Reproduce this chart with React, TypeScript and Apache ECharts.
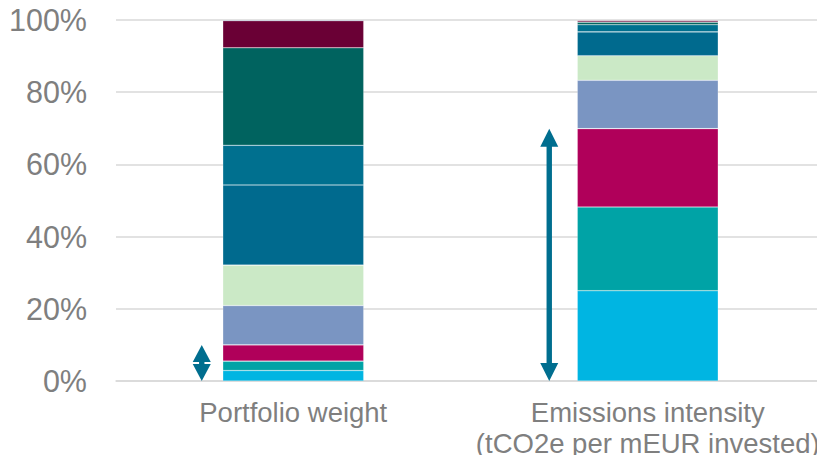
import React, { useEffect, useRef } from "react";
import * as echarts from "echarts";

const categories = ["Portfolio weight", "Emissions intensity\n(tCO2e per mEUR invested)"];
const yTicks = [0, 20, 40, 60, 80, 100];

const seriesNames = [
  "Segment 1",
  "Segment 2",
  "Segment 3",
  "Segment 4",
  "Segment 5",
  "Segment 6",
  "Segment 7",
  "Segment 8",
  "Segment 9",
  "Segment 10",
];
const seg1 = [2.9, 25.0];
const seg2 = [2.6, 23.2];
const seg3 = [4.5, 21.7];
const seg4 = [10.9, 13.4];
const seg5 = [11.2, 6.8];
const seg6 = [22.2, 6.6];
const seg7 = [11.0, 2.0];
const seg8 = [27.0, 0.7];
const seg9 = [7.5, 0.5];
const seg10 = [0.2, 0.1];
const seriesValues = [seg1, seg2, seg3, seg4, seg5, seg6, seg7, seg8, seg9, seg10];

const colors = [
  "#00B5E2",
  "#00A3A6",
  "#B0005A",
  "#7A95C2",
  "#CBE9C6",
  "#006A8E",
  "#00708F",
  "#00635F",
  "#6A0035",
  "#3E5590",
];

// arrows span the first three segments of each bar
const arrowTops = categories.map((_, i) => seg1[i] + seg2[i] + seg3[i]);

const BAR_WIDTH = 141;
const ARROW_GAP = [21, 28];
const ARROW_COLOR = "#006E8F";
const FONT = "'Liberation Sans', Arial, sans-serif";
const TEXT_COLOR = "#7F7F7F";
const GRID_COLOR = "#D9D9D9";

export default function App() {
  const ref = useRef<HTMLDivElement>(null);

  useEffect(() => {
    if (!ref.current) return;
    const chart = echarts.init(ref.current, undefined, { renderer: "svg" });

    const barSeries = seriesNames.map((name, i) => ({
      name,
      type: "bar",
      stack: "total",
      barWidth: BAR_WIDTH,
      data: seriesValues[i],
      itemStyle: {
        color: colors[i],
        borderColor: "rgba(255,255,255,0.35)",
        borderWidth: 0.6,
      },
      emphasis: { disabled: true },
      z: 2,
    }));

    const arrowSeries = {
      type: "custom",
      z: 5,
      data: categories.map((_, i) => [i, 0, arrowTops[i]]),
      renderItem: (params: any, api: any) => {
        const idx = api.value(0);
        const center = api.coord([idx, 0]);
        const x = center[0] - BAR_WIDTH / 2 - ARROW_GAP[params.dataIndex];
        const yBot = api.coord([idx, api.value(1)])[1];
        const yTop = api.coord([idx, api.value(2)])[1];
        const len = yBot - yTop;
        const h = Math.min(18, len / 2 - 1);
        const hw = 9;
        const children: any[] = [
          {
            type: "polygon",
            shape: { points: [[x, yTop], [x - hw, yTop + h], [x + hw, yTop + h]] },
            style: { fill: ARROW_COLOR },
          },
          {
            type: "polygon",
            shape: { points: [[x, yBot], [x - hw, yBot - h], [x + hw, yBot - h]] },
            style: { fill: ARROW_COLOR },
          },
          {
            type: "rect",
            shape: { x: x - 2.7, y: yTop + h - 1, width: 5.4, height: Math.max(0, len - 2 * h + 2) },
            style: { fill: ARROW_COLOR },
          },
        ];
        return { type: "group", children };
      },
    };

    chart.setOption({
      animation: false,
      grid: { left: 116, right: 0, top: 20, bottom: 82, containLabel: false, outerBoundsMode: "none" },
      xAxis: {
        type: "category",
        data: categories,
        axisLine: { show: true, lineStyle: { color: GRID_COLOR, width: 1.5 } },
        axisTick: { show: false },
        axisLabel: {
          color: TEXT_COLOR,
          fontFamily: FONT,
          fontSize: 27.5,
          lineHeight: 31,
          margin: 16,
          interval: 0,
          overflow: "none",
          hideOverlap: false,
        },
      },
      yAxis: {
        type: "value",
        min: yTicks[0],
        max: yTicks[yTicks.length - 1],
        interval: 20,
        axisLine: { show: false },
        axisTick: { show: false },
        splitLine: { show: true, lineStyle: { color: GRID_COLOR, width: 1.5 } },
        axisLabel: {
          color: TEXT_COLOR,
          fontFamily: FONT,
          fontSize: 30.5,
          margin: 29,
          formatter: "{value}%",
        },
      },
      series: [...barSeries, arrowSeries],
    });

    return () => chart.dispose();
  }, []);

  return <div ref={ref} style={{ width: 825, height: 463, margin: -8 }} />;
}
